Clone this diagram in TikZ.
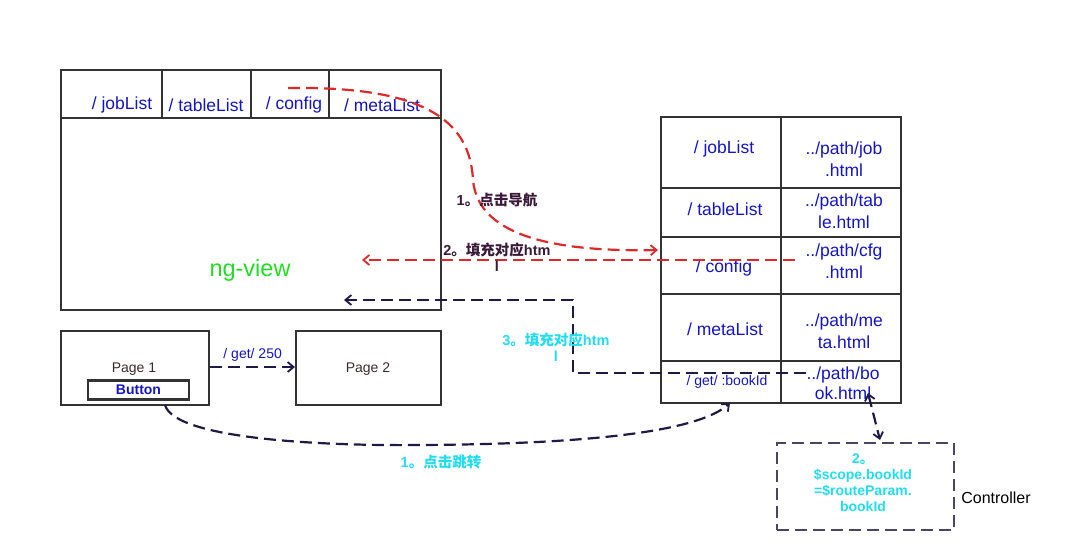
\documentclass[tikz,border=0pt]{standalone}
\usepackage{fontspec}
\setmainfont{Liberation Sans}
\newfontfamily\cjk{Noto Sans CJK SC}
\newcommand{\zh}[1]{{\cjk #1}}
\usetikzlibrary{arrows.meta}
\definecolor{boxline}{HTML}{333333}
\definecolor{txtblue}{HTML}{1414C8}
\definecolor{ngreen}{HTML}{22DD22}
\definecolor{redline}{HTML}{E02828}
\definecolor{navy}{HTML}{1E1A48}
\definecolor{cyantxt}{HTML}{22DDEE}
\definecolor{maroon}{HTML}{3A1A38}
\definecolor{ctrlline}{HTML}{4A4466}
\definecolor{pagetxt}{HTML}{3A2A2A}
\tikzset{
  box/.style={draw=boxline, line width=2.3pt, inner sep=0pt},
  cell/.style={box, anchor=north west},
  lbl/.style={text=txtblue, font=\fontsize{17.5}{21}\selectfont, align=center, inner sep=0pt},
  small/.style={text=txtblue, font=\fontsize{14}{16}\selectfont, inner sep=0pt},
  dsh/.style={line width=2.2pt, dash pattern=on 12pt off 6pt},
  barb/.style={Straight Barb[length=6pt,width=10pt,line width=1.8pt]},
  redarrow/.style={dsh, draw=redline, -{Straight Barb[length=6pt,width=10pt,line width=1.8pt]}},
  navyarrow/.style={dsh, draw=navy, -{Straight Barb[length=6pt,width=10pt,line width=1.8pt]}},
  cn/.style={font=\bfseries\fontsize{14.5}{17}\selectfont, inner sep=0pt, align=center},
}
\begin{document}
\begin{tikzpicture}[x=1pt,y=-1pt]
\useasboundingbox (0,0) rectangle (1071,555);
% main view
\node[cell, minimum width=380pt, minimum height=240pt] (main) at (60,69) {};
\node[cell, minimum width=101pt, minimum height=48pt] (h1) at (60,69) {};
\node[cell, minimum width=89pt, minimum height=48pt] (h2) at (161,69) {};
\node[cell, minimum width=78pt, minimum height=48pt] (h3) at (250,69) {};
\node[cell, minimum width=112pt, minimum height=48pt] (h4) at (328,69) {};
\node[lbl] (t1) at (122,105) {/ jobList};
\node[lbl] (t2) at (206,105) {/ tableList};
\node[lbl] (t3) at (294,105) {/ config};
\node[lbl] (t4) at (382,105) {/ metaList};
\node[text=ngreen, font=\fontsize{23.5}{26}\selectfont, inner sep=0pt] (ng) at (250,270) {ng-view};
% pages
\node[cell, minimum width=148pt, minimum height=74pt] (p1) at (60,330) {};
\node[text=pagetxt, font=\fontsize{14}{16}\selectfont, inner sep=0pt] (p1t) at (134,369) {Page 1};
\node[box, minimum width=101pt, minimum height=19pt, text=txtblue, font=\bfseries\fontsize{14}{16}\selectfont] (btn) at (138.5,390) {Button};
\node[cell, minimum width=145pt, minimum height=74pt] (p2) at (295,330) {};
\node[text=pagetxt, font=\fontsize{14}{16}\selectfont, inner sep=0pt] (p2t) at (368,369) {Page 2};
\draw[navyarrow] (p1.east |- 0,367) -- node[small, above=5pt] {/ get/ 250} (p2.west |- 0,367);
% route table
\node[cell, minimum width=120pt, minimum height=71pt] (r1a) at (660,116) {};
\node[cell, minimum width=120pt, minimum height=71pt] (r1b) at (780,116) {};
\node[cell, minimum width=120pt, minimum height=49pt] (r2a) at (660,187) {};
\node[cell, minimum width=120pt, minimum height=49pt] (r2b) at (780,187) {};
\node[cell, minimum width=120pt, minimum height=57pt] (r3a) at (660,236) {};
\node[cell, minimum width=120pt, minimum height=57pt] (r3b) at (780,236) {};
\node[cell, minimum width=120pt, minimum height=67pt] (r4a) at (660,293) {};
\node[cell, minimum width=120pt, minimum height=67pt] (r4b) at (780,293) {};
\node[cell, minimum width=120pt, minimum height=42pt] (r5a) at (660,360) {};
\node[cell, minimum width=120pt, minimum height=42pt] (r5b) at (780,360) {};
\node[lbl] (l1) at (724,149) {/ jobList};
\node[lbl] (l2) at (725,209) {/ tableList};
\node[lbl] (l3) at (724,268) {/ config};
\node[lbl] (l4) at (725,329) {/ metaList};
\node[small] (l5) at (727,382) {/ get/ :bookId};
\node[lbl, font=\fontsize{17.5}{22}\selectfont] (v1) at (844,159) {../path/job\\.html};
\node[lbl, font=\fontsize{17.5}{22}\selectfont] (v2) at (844,211) {../path/tab\\le.html};
\node[lbl, font=\fontsize{17.5}{22}\selectfont] (v3) at (844,261) {../path/cfg\\.html};
\node[lbl, font=\fontsize{17.5}{22}\selectfont] (v4) at (844,331) {../path/me\\ta.html};
\node[lbl, font=\fontsize{17.5}{20}\selectfont] (v5) at (843,383) {../path/bo\\ok.html};
% red curve 1
\coordinate (rs) at (288,88);
\coordinate (rm) at (473,180);
\coordinate (re) at (658,250);
\draw[redarrow] (rs) .. controls (420,86) and (470,118) .. (rm) .. controls (478,238) and (560,252) .. (re);
\node[cn, text=maroon] (c1) at (497,200) {1\zh{。点击导航}};
% red line 2
\coordinate (r2s) at (795,260);
\coordinate (r2e) at (362,260);
\draw[redarrow] (r2s) -- (r2e);
\node[cn, text=maroon] (c2) at (497,250) {2\zh{。填充对应}htm};
\node[cn, text=maroon] (c2b) at (497,266) {l};
% navy line 3
\coordinate (n3s) at (806,373);
\coordinate (n3c1) at (573,373);
\coordinate (n3c2) at (573,300);
\coordinate (n3e) at (344,300);
\draw[navyarrow] (n3s) -- (n3c1) -- (n3c2) -- (n3e);
\node[cn, text=cyantxt] (c3) at (556,340) {3\zh{。填充对应}htm};
\node[cn, text=cyantxt] (c3b) at (556,356) {l};
% bottom curve
\coordinate (bs) at (165,405);
\coordinate (be) at (730,403);
\draw[navyarrow] (bs) .. controls (175,440) and (330,446) .. (420,445) .. controls (600,444) and (700,430) .. (be);
\node[cn, text=cyantxt] (c4) at (441,462) {1\zh{。点击跳转}};
% controller
\node[draw=ctrlline, line width=2.3pt, dash pattern=on 12pt off 6pt, anchor=north west, minimum width=177pt, minimum height=87pt, inner sep=0pt] (ctrl) at (776,442) {};
\node[cn, text=cyantxt, font=\bfseries\fontsize{14}{16}\selectfont] (ct) at (863,483) {2\zh{。}\\\$scope.bookId\\=\$routeParam.\\bookId};
\node[font=\fontsize{16}{18}\selectfont, inner sep=0pt] (ctl) at (996,498) {Controller};
\coordinate (da) at (868,393);
\coordinate (db) at (880,440);
\draw[dsh, draw=navy, {Straight Barb[length=6pt,width=10pt,line width=1.8pt]}-{Straight Barb[length=6pt,width=10pt,line width=1.8pt]}] (da) -- (db);
\end{tikzpicture}
\end{document}
